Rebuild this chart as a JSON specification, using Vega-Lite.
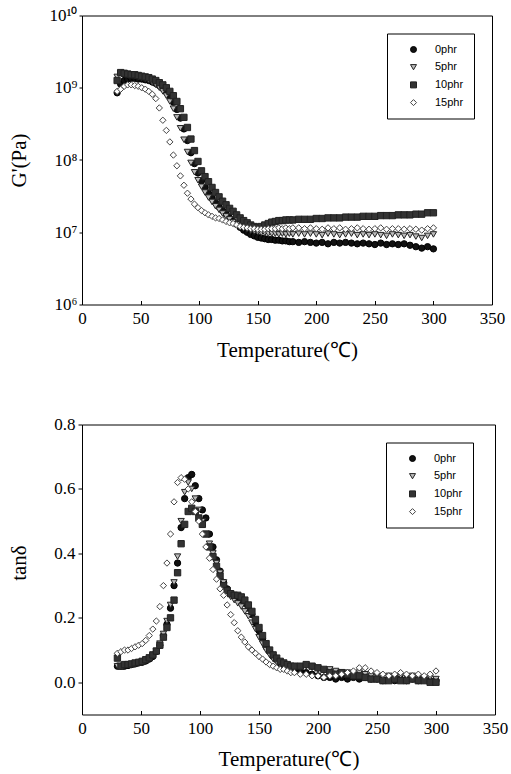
{
"$schema": "https://vega.github.io/schema/vega-lite/v6.json",
"background": "white",
"padding": {"left": 7, "top": 5.5, "right": 5, "bottom": 5},
"autosize": {"type": "pad"},
"spacing": 53,
"data": {"values": [
{"p":"0phr","t":30,"g":8.51e8,"d":0.05},
{"p":"0phr","t":33,"g":1.122e9,"d":0.05},
{"p":"0phr","t":36,"g":1.259e9,"d":0.05},
{"p":"0phr","t":39,"g":1.318e9,"d":0.052},
{"p":"0phr","t":42,"g":1.349e9,"d":0.055},
{"p":"0phr","t":45,"g":1.349e9,"d":0.057},
{"p":"0phr","t":48,"g":1.318e9,"d":0.06},
{"p":"0phr","t":51,"g":1.318e9,"d":0.062},
{"p":"0phr","t":54,"g":1.288e9,"d":0.066},
{"p":"0phr","t":57,"g":1.259e9,"d":0.072},
{"p":"0phr","t":60,"g":1.202e9,"d":0.08},
{"p":"0phr","t":63,"g":1.148e9,"d":0.095},
{"p":"0phr","t":66,"g":1.072e9,"d":0.115},
{"p":"0phr","t":69,"g":9.77e8,"d":0.145},
{"p":"0phr","t":72,"g":8.71e8,"d":0.18},
{"p":"0phr","t":75,"g":7.59e8,"d":0.23},
{"p":"0phr","t":78,"g":6.31e8,"d":0.3},
{"p":"0phr","t":81,"g":5.01e8,"d":0.37},
{"p":"0phr","t":84,"g":3.8e8,"d":0.48},
{"p":"0phr","t":87,"g":2.69e8,"d":0.57},
{"p":"0phr","t":90,"g":1.86e8,"d":0.635},
{"p":"0phr","t":93,"g":1.26e8,"d":0.645},
{"p":"0phr","t":96,"g":8.91e7,"d":0.61},
{"p":"0phr","t":99,"g":6.61e7,"d":0.57},
{"p":"0phr","t":102,"g":5.13e7,"d":0.535},
{"p":"0phr","t":105,"g":4.17e7,"d":0.51},
{"p":"0phr","t":108,"g":3.47e7,"d":0.46},
{"p":"0phr","t":111,"g":2.95e7,"d":0.42},
{"p":"0phr","t":114,"g":2.57e7,"d":0.38},
{"p":"0phr","t":117,"g":2.24e7,"d":0.345},
{"p":"0phr","t":120,"g":2.0e7,"d":0.31},
{"p":"0phr","t":123,"g":1.78e7,"d":0.29},
{"p":"0phr","t":126,"g":1.58e7,"d":0.275},
{"p":"0phr","t":129,"g":1.41e7,"d":0.27},
{"p":"0phr","t":132,"g":1.29e7,"d":0.265},
{"p":"0phr","t":135,"g":1.17e7,"d":0.255},
{"p":"0phr","t":138,"g":1.07e7,"d":0.245},
{"p":"0phr","t":141,"g":1.0e7,"d":0.23},
{"p":"0phr","t":144,"g":9.33e6,"d":0.21},
{"p":"0phr","t":147,"g":8.91e6,"d":0.185},
{"p":"0phr","t":150,"g":8.51e6,"d":0.16},
{"p":"0phr","t":153,"g":8.32e6,"d":0.135},
{"p":"0phr","t":156,"g":8.13e6,"d":0.11},
{"p":"0phr","t":159,"g":7.94e6,"d":0.095},
{"p":"0phr","t":162,"g":7.94e6,"d":0.08},
{"p":"0phr","t":165,"g":7.76e6,"d":0.07},
{"p":"0phr","t":168,"g":7.76e6,"d":0.06},
{"p":"0phr","t":171,"g":7.59e6,"d":0.055},
{"p":"0phr","t":174,"g":7.59e6,"d":0.05},
{"p":"0phr","t":177,"g":7.41e6,"d":0.045},
{"p":"0phr","t":180,"g":7.41e6,"d":0.04},
{"p":"0phr","t":185,"g":7.24e6,"d":0.035},
{"p":"0phr","t":190,"g":7.41e6,"d":0.03},
{"p":"0phr","t":195,"g":7.24e6,"d":0.025},
{"p":"0phr","t":200,"g":7.08e6,"d":0.02},
{"p":"0phr","t":205,"g":7.24e6,"d":0.015},
{"p":"0phr","t":210,"g":6.92e6,"d":0.015},
{"p":"0phr","t":215,"g":7.24e6,"d":0.01},
{"p":"0phr","t":220,"g":7.08e6,"d":0.015},
{"p":"0phr","t":225,"g":7.24e6,"d":0.01},
{"p":"0phr","t":230,"g":7.08e6,"d":0.015},
{"p":"0phr","t":235,"g":6.92e6,"d":0.01},
{"p":"0phr","t":240,"g":7.08e6,"d":0.015},
{"p":"0phr","t":245,"g":6.92e6,"d":0.01},
{"p":"0phr","t":250,"g":6.76e6,"d":0.01},
{"p":"0phr","t":255,"g":7.08e6,"d":0.005},
{"p":"0phr","t":260,"g":6.76e6,"d":0.01},
{"p":"0phr","t":265,"g":6.92e6,"d":0.005},
{"p":"0phr","t":270,"g":6.76e6,"d":0.01},
{"p":"0phr","t":275,"g":6.92e6,"d":0.005},
{"p":"0phr","t":280,"g":6.61e6,"d":0.01},
{"p":"0phr","t":285,"g":6.31e6,"d":0.005},
{"p":"0phr","t":290,"g":6.03e6,"d":0.01},
{"p":"0phr","t":295,"g":6.31e6,"d":0.005},
{"p":"0phr","t":300,"g":5.89e6,"d":0.005},
{"p":"5phr","t":30,"g":1.413e9,"d":0.05},
{"p":"5phr","t":33,"g":1.585e9,"d":0.05},
{"p":"5phr","t":36,"g":1.549e9,"d":0.052},
{"p":"5phr","t":39,"g":1.514e9,"d":0.053},
{"p":"5phr","t":42,"g":1.479e9,"d":0.055},
{"p":"5phr","t":45,"g":1.445e9,"d":0.057},
{"p":"5phr","t":48,"g":1.413e9,"d":0.06},
{"p":"5phr","t":51,"g":1.38e9,"d":0.063},
{"p":"5phr","t":54,"g":1.318e9,"d":0.067},
{"p":"5phr","t":57,"g":1.259e9,"d":0.073},
{"p":"5phr","t":60,"g":1.175e9,"d":0.082},
{"p":"5phr","t":63,"g":1.096e9,"d":0.097},
{"p":"5phr","t":66,"g":1.0e9,"d":0.12},
{"p":"5phr","t":69,"g":8.91e8,"d":0.15},
{"p":"5phr","t":72,"g":7.76e8,"d":0.19},
{"p":"5phr","t":75,"g":6.46e8,"d":0.24},
{"p":"5phr","t":78,"g":5.13e8,"d":0.31},
{"p":"5phr","t":81,"g":3.89e8,"d":0.39},
{"p":"5phr","t":84,"g":2.75e8,"d":0.5},
{"p":"5phr","t":87,"g":1.91e8,"d":0.59},
{"p":"5phr","t":90,"g":1.29e8,"d":0.62},
{"p":"5phr","t":93,"g":9.12e7,"d":0.6},
{"p":"5phr","t":96,"g":6.76e7,"d":0.57},
{"p":"5phr","t":99,"g":5.25e7,"d":0.535},
{"p":"5phr","t":102,"g":4.27e7,"d":0.5},
{"p":"5phr","t":105,"g":3.55e7,"d":0.46},
{"p":"5phr","t":108,"g":3.02e7,"d":0.43},
{"p":"5phr","t":111,"g":2.63e7,"d":0.4},
{"p":"5phr","t":114,"g":2.29e7,"d":0.37},
{"p":"5phr","t":117,"g":2.04e7,"d":0.34},
{"p":"5phr","t":120,"g":1.82e7,"d":0.31},
{"p":"5phr","t":123,"g":1.66e7,"d":0.285},
{"p":"5phr","t":126,"g":1.51e7,"d":0.265},
{"p":"5phr","t":129,"g":1.38e7,"d":0.255},
{"p":"5phr","t":132,"g":1.29e7,"d":0.245},
{"p":"5phr","t":135,"g":1.2e7,"d":0.235},
{"p":"5phr","t":138,"g":1.15e7,"d":0.22},
{"p":"5phr","t":141,"g":1.1e7,"d":0.205},
{"p":"5phr","t":144,"g":1.05e7,"d":0.185},
{"p":"5phr","t":147,"g":1.02e7,"d":0.165},
{"p":"5phr","t":150,"g":1.0e7,"d":0.14},
{"p":"5phr","t":153,"g":9.77e6,"d":0.12},
{"p":"5phr","t":156,"g":9.77e6,"d":0.1},
{"p":"5phr","t":159,"g":9.55e6,"d":0.085},
{"p":"5phr","t":162,"g":9.55e6,"d":0.072},
{"p":"5phr","t":165,"g":9.55e6,"d":0.062},
{"p":"5phr","t":168,"g":9.33e6,"d":0.055},
{"p":"5phr","t":171,"g":9.55e6,"d":0.05},
{"p":"5phr","t":174,"g":9.33e6,"d":0.045},
{"p":"5phr","t":177,"g":9.55e6,"d":0.042},
{"p":"5phr","t":180,"g":9.33e6,"d":0.04},
{"p":"5phr","t":185,"g":9.55e6,"d":0.045},
{"p":"5phr","t":190,"g":9.33e6,"d":0.05},
{"p":"5phr","t":195,"g":9.55e6,"d":0.045},
{"p":"5phr","t":200,"g":9.33e6,"d":0.04},
{"p":"5phr","t":205,"g":9.12e6,"d":0.035},
{"p":"5phr","t":210,"g":9.55e6,"d":0.04},
{"p":"5phr","t":215,"g":9.33e6,"d":0.035},
{"p":"5phr","t":220,"g":9.12e6,"d":0.03},
{"p":"5phr","t":225,"g":9.33e6,"d":0.03},
{"p":"5phr","t":230,"g":9.55e6,"d":0.025},
{"p":"5phr","t":235,"g":9.12e6,"d":0.03},
{"p":"5phr","t":240,"g":9.33e6,"d":0.025},
{"p":"5phr","t":245,"g":9.12e6,"d":0.02},
{"p":"5phr","t":250,"g":9.33e6,"d":0.02},
{"p":"5phr","t":255,"g":9.12e6,"d":0.015},
{"p":"5phr","t":260,"g":8.91e6,"d":0.02},
{"p":"5phr","t":265,"g":9.33e6,"d":0.015},
{"p":"5phr","t":270,"g":9.12e6,"d":0.02},
{"p":"5phr","t":275,"g":8.91e6,"d":0.015},
{"p":"5phr","t":280,"g":9.12e6,"d":0.02},
{"p":"5phr","t":285,"g":8.71e6,"d":0.015},
{"p":"5phr","t":290,"g":8.32e6,"d":0.01},
{"p":"5phr","t":295,"g":8.91e6,"d":0.015},
{"p":"5phr","t":300,"g":9.33e6,"d":0.01},
{"p":"10phr","t":30,"g":1.259e9,"d":0.075},
{"p":"10phr","t":33,"g":1.622e9,"d":0.05},
{"p":"10phr","t":36,"g":1.585e9,"d":0.055},
{"p":"10phr","t":39,"g":1.549e9,"d":0.055},
{"p":"10phr","t":42,"g":1.514e9,"d":0.057},
{"p":"10phr","t":45,"g":1.514e9,"d":0.06},
{"p":"10phr","t":48,"g":1.479e9,"d":0.062},
{"p":"10phr","t":51,"g":1.445e9,"d":0.065},
{"p":"10phr","t":54,"g":1.413e9,"d":0.07},
{"p":"10phr","t":57,"g":1.38e9,"d":0.076},
{"p":"10phr","t":60,"g":1.318e9,"d":0.085},
{"p":"10phr","t":63,"g":1.259e9,"d":0.097},
{"p":"10phr","t":66,"g":1.175e9,"d":0.115},
{"p":"10phr","t":69,"g":1.096e9,"d":0.14},
{"p":"10phr","t":72,"g":1.0e9,"d":0.17},
{"p":"10phr","t":75,"g":8.91e8,"d":0.2},
{"p":"10phr","t":78,"g":7.76e8,"d":0.255},
{"p":"10phr","t":81,"g":6.46e8,"d":0.34},
{"p":"10phr","t":84,"g":5.13e8,"d":0.43},
{"p":"10phr","t":87,"g":3.89e8,"d":0.49},
{"p":"10phr","t":90,"g":2.82e8,"d":0.53},
{"p":"10phr","t":93,"g":1.95e8,"d":0.54},
{"p":"10phr","t":96,"g":1.35e8,"d":0.53},
{"p":"10phr","t":99,"g":9.55e7,"d":0.51},
{"p":"10phr","t":102,"g":7.08e7,"d":0.49},
{"p":"10phr","t":105,"g":5.89e7,"d":0.46},
{"p":"10phr","t":108,"g":5.01e7,"d":0.42},
{"p":"10phr","t":111,"g":4.17e7,"d":0.39},
{"p":"10phr","t":114,"g":3.55e7,"d":0.36},
{"p":"10phr","t":117,"g":3.09e7,"d":0.33},
{"p":"10phr","t":120,"g":2.69e7,"d":0.3},
{"p":"10phr","t":123,"g":2.4e7,"d":0.285},
{"p":"10phr","t":126,"g":2.14e7,"d":0.275},
{"p":"10phr","t":129,"g":1.95e7,"d":0.27},
{"p":"10phr","t":132,"g":1.74e7,"d":0.27},
{"p":"10phr","t":135,"g":1.58e7,"d":0.265},
{"p":"10phr","t":138,"g":1.45e7,"d":0.255},
{"p":"10phr","t":141,"g":1.35e7,"d":0.24},
{"p":"10phr","t":144,"g":1.26e7,"d":0.22},
{"p":"10phr","t":147,"g":1.2e7,"d":0.195},
{"p":"10phr","t":150,"g":1.17e7,"d":0.17},
{"p":"10phr","t":153,"g":1.2e7,"d":0.145},
{"p":"10phr","t":156,"g":1.26e7,"d":0.12},
{"p":"10phr","t":159,"g":1.32e7,"d":0.1},
{"p":"10phr","t":162,"g":1.38e7,"d":0.085},
{"p":"10phr","t":165,"g":1.41e7,"d":0.075},
{"p":"10phr","t":168,"g":1.45e7,"d":0.065},
{"p":"10phr","t":171,"g":1.45e7,"d":0.06},
{"p":"10phr","t":174,"g":1.48e7,"d":0.055},
{"p":"10phr","t":177,"g":1.48e7,"d":0.05},
{"p":"10phr","t":180,"g":1.48e7,"d":0.05},
{"p":"10phr","t":185,"g":1.51e7,"d":0.05},
{"p":"10phr","t":190,"g":1.51e7,"d":0.055},
{"p":"10phr","t":195,"g":1.51e7,"d":0.05},
{"p":"10phr","t":200,"g":1.55e7,"d":0.045},
{"p":"10phr","t":205,"g":1.55e7,"d":0.04},
{"p":"10phr","t":210,"g":1.58e7,"d":0.03},
{"p":"10phr","t":215,"g":1.58e7,"d":0.025},
{"p":"10phr","t":220,"g":1.58e7,"d":0.03},
{"p":"10phr","t":225,"g":1.62e7,"d":0.025},
{"p":"10phr","t":230,"g":1.62e7,"d":0.02},
{"p":"10phr","t":235,"g":1.62e7,"d":0.02},
{"p":"10phr","t":240,"g":1.66e7,"d":0.015},
{"p":"10phr","t":245,"g":1.66e7,"d":0.01},
{"p":"10phr","t":250,"g":1.66e7,"d":0.01},
{"p":"10phr","t":255,"g":1.7e7,"d":0.005},
{"p":"10phr","t":260,"g":1.7e7,"d":0.005},
{"p":"10phr","t":265,"g":1.7e7,"d":0.01},
{"p":"10phr","t":270,"g":1.74e7,"d":0.005},
{"p":"10phr","t":275,"g":1.74e7,"d":0.005},
{"p":"10phr","t":280,"g":1.74e7,"d":0.01},
{"p":"10phr","t":285,"g":1.78e7,"d":0.005},
{"p":"10phr","t":290,"g":1.78e7,"d":0.005},
{"p":"10phr","t":295,"g":1.86e7,"d":0.0},
{"p":"10phr","t":300,"g":1.86e7,"d":0.0},
{"p":"15phr","t":30,"g":8.91e8,"d":0.09},
{"p":"15phr","t":33,"g":9.55e8,"d":0.095},
{"p":"15phr","t":36,"g":1.047e9,"d":0.1},
{"p":"15phr","t":39,"g":1.096e9,"d":0.1},
{"p":"15phr","t":42,"g":1.096e9,"d":0.105},
{"p":"15phr","t":45,"g":1.072e9,"d":0.11},
{"p":"15phr","t":48,"g":1.047e9,"d":0.115},
{"p":"15phr","t":51,"g":1.0e9,"d":0.12},
{"p":"15phr","t":54,"g":9.55e8,"d":0.13},
{"p":"15phr","t":57,"g":8.91e8,"d":0.145},
{"p":"15phr","t":60,"g":8.13e8,"d":0.165},
{"p":"15phr","t":63,"g":7.08e8,"d":0.19},
{"p":"15phr","t":66,"g":5.25e8,"d":0.235},
{"p":"15phr","t":69,"g":3.55e8,"d":0.3},
{"p":"15phr","t":72,"g":2.57e8,"d":0.37},
{"p":"15phr","t":75,"g":1.78e8,"d":0.46},
{"p":"15phr","t":78,"g":1.17e8,"d":0.56},
{"p":"15phr","t":81,"g":8.32e7,"d":0.62},
{"p":"15phr","t":84,"g":6.03e7,"d":0.635},
{"p":"15phr","t":87,"g":4.47e7,"d":0.63},
{"p":"15phr","t":90,"g":3.47e7,"d":0.6},
{"p":"15phr","t":93,"g":2.88e7,"d":0.56},
{"p":"15phr","t":96,"g":2.45e7,"d":0.53},
{"p":"15phr","t":99,"g":2.19e7,"d":0.5},
{"p":"15phr","t":102,"g":2.0e7,"d":0.46},
{"p":"15phr","t":105,"g":1.86e7,"d":0.42},
{"p":"15phr","t":108,"g":1.74e7,"d":0.385},
{"p":"15phr","t":111,"g":1.66e7,"d":0.35},
{"p":"15phr","t":114,"g":1.58e7,"d":0.32},
{"p":"15phr","t":117,"g":1.55e7,"d":0.29},
{"p":"15phr","t":120,"g":1.48e7,"d":0.27},
{"p":"15phr","t":123,"g":1.41e7,"d":0.24},
{"p":"15phr","t":126,"g":1.35e7,"d":0.21},
{"p":"15phr","t":129,"g":1.32e7,"d":0.185},
{"p":"15phr","t":132,"g":1.26e7,"d":0.16},
{"p":"15phr","t":135,"g":1.2e7,"d":0.14},
{"p":"15phr","t":138,"g":1.17e7,"d":0.125},
{"p":"15phr","t":141,"g":1.15e7,"d":0.11},
{"p":"15phr","t":144,"g":1.12e7,"d":0.1},
{"p":"15phr","t":147,"g":1.12e7,"d":0.09},
{"p":"15phr","t":150,"g":1.1e7,"d":0.08},
{"p":"15phr","t":153,"g":1.1e7,"d":0.072},
{"p":"15phr","t":156,"g":1.1e7,"d":0.063},
{"p":"15phr","t":159,"g":1.12e7,"d":0.055},
{"p":"15phr","t":162,"g":1.12e7,"d":0.05},
{"p":"15phr","t":165,"g":1.12e7,"d":0.045},
{"p":"15phr","t":168,"g":1.15e7,"d":0.04},
{"p":"15phr","t":171,"g":1.12e7,"d":0.04},
{"p":"15phr","t":174,"g":1.15e7,"d":0.035},
{"p":"15phr","t":177,"g":1.12e7,"d":0.03},
{"p":"15phr","t":180,"g":1.15e7,"d":0.03},
{"p":"15phr","t":185,"g":1.15e7,"d":0.025},
{"p":"15phr","t":190,"g":1.12e7,"d":0.025},
{"p":"15phr","t":195,"g":1.15e7,"d":0.02},
{"p":"15phr","t":200,"g":1.12e7,"d":0.02},
{"p":"15phr","t":205,"g":1.1e7,"d":0.015},
{"p":"15phr","t":210,"g":1.15e7,"d":0.02},
{"p":"15phr","t":215,"g":1.12e7,"d":0.02},
{"p":"15phr","t":220,"g":1.15e7,"d":0.025},
{"p":"15phr","t":225,"g":1.1e7,"d":0.03},
{"p":"15phr","t":230,"g":1.12e7,"d":0.035},
{"p":"15phr","t":235,"g":1.15e7,"d":0.045},
{"p":"15phr","t":240,"g":1.12e7,"d":0.045},
{"p":"15phr","t":245,"g":1.1e7,"d":0.035},
{"p":"15phr","t":250,"g":1.12e7,"d":0.03},
{"p":"15phr","t":255,"g":1.15e7,"d":0.025},
{"p":"15phr","t":260,"g":1.1e7,"d":0.02},
{"p":"15phr","t":265,"g":1.12e7,"d":0.025},
{"p":"15phr","t":270,"g":1.12e7,"d":0.03},
{"p":"15phr","t":275,"g":1.1e7,"d":0.025},
{"p":"15phr","t":280,"g":1.12e7,"d":0.02},
{"p":"15phr","t":285,"g":1.1e7,"d":0.025},
{"p":"15phr","t":290,"g":1.07e7,"d":0.02},
{"p":"15phr","t":295,"g":1.12e7,"d":0.025},
{"p":"15phr","t":300,"g":1.15e7,"d":0.035}
]},
"resolve": {
  "scale": {"x": "independent", "y": "independent", "shape": "independent", "fill": "independent", "stroke": "independent"},
  "legend": {"shape": "independent", "fill": "independent", "stroke": "independent"},
  "axis": {"x": "independent", "y": "independent"}
},
"vconcat": [
{
  "width": 410,
  "height": 289,
  "mark": {"type": "point", "filled": true, "size": 40, "strokeWidth": 1, "opacity": 1},
  "encoding": {
    "x": {"field": "t", "type": "quantitative", "scale": {"domain": [0, 350], "nice": false, "zero": false},
      "axis": {"values": [0, 50, 100, 150, 200, 250, 300, 350], "title": "Temperature(℃)", "tickSize": -4, "labelPadding": 10,
        "titleY": 46, "titleBaseline": "middle",
        "labelFont": "Liberation Serif", "titleFont": "Liberation Serif", "labelFontSize": 17, "titleFontSize": 21, "titleFontWeight": "normal",
        "labelColor": "#000000", "titleColor": "#000000", "tickColor": "#000000", "domain": false, "grid": false, "labelFlush": false, "labelOverlap": false}},
    "y": {"field": "g", "type": "quantitative", "scale": {"type": "log", "domain": [1e6, 1e10], "nice": false},
      "axis": {"values": [1e6, 1e7, 1e8, 1e9, 1e10], "title": "G'(Pa)", "tickSize": 3, "labelPadding": 2,
        "titleX": -63, "titleY": 144.5, "titleAngle": -90, "titleBaseline": "middle", "titleAlign": "center",
        "labelFont": "Liberation Serif", "titleFont": "Liberation Serif", "labelFontSize": 17, "titleFontSize": 21, "titleFontWeight": "normal",
        "labelColor": "#000000", "titleColor": "#000000", "tickColor": "#000000", "domain": false, "grid": false, "labelFlush": false, "labelOverlap": false,
        "labelExpr": "datum.value > 5e9 ? '10¹⁰' : datum.value > 5e8 ? '10⁹' : datum.value > 5e7 ? '10⁸' : datum.value > 5e6 ? '10⁷' : '10⁶'"}},
    "shape": {"field": "p", "type": "nominal", "sort": ["0phr", "5phr", "10phr", "15phr"],
      "scale": {"domain": ["0phr", "5phr", "10phr", "15phr"], "range": ["circle", "triangle-down", "square", "diamond"]},
      "legend": {"title": null, "orient": "none", "legendX": 305, "legendY": 18, "labelFont": "Liberation Sans", "labelFontSize": 11, "labelColor": "#000000", "strokeColor": "#000000", "fillColor": "#ffffff", "padding": 10.5, "rowPadding": 5.7, "symbolSize": 36, "symbolOffset": 10.5, "labelOffset": 16, "symbolStrokeWidth": 1}},
    "fill": {"field": "p", "type": "nominal", "scale": {"domain": ["0phr", "5phr", "10phr", "15phr"], "range": ["#111111", "#bbbbbb", "#333333", "#ffffff"]},
      "legend": {"title": null, "orient": "none", "legendX": 305, "legendY": 18}},
    "stroke": {"field": "p", "type": "nominal", "scale": {"domain": ["0phr", "5phr", "10phr", "15phr"], "range": ["#000000", "#222222", "#222222", "#444444"]},
      "legend": {"title": null, "orient": "none", "legendX": 305, "legendY": 18}}
  }
},
{
  "width": 413,
  "height": 290,
  "mark": {"type": "point", "filled": true, "size": 40, "strokeWidth": 1, "opacity": 1},
  "encoding": {
    "x": {"field": "t", "type": "quantitative", "scale": {"domain": [0, 350], "nice": false, "zero": false},
      "axis": {"values": [0, 50, 100, 150, 200, 250, 300, 350], "title": "Temperature(℃)", "tickSize": -4, "labelPadding": 10,
        "titleY": 45, "titleBaseline": "middle",
        "labelFont": "Liberation Serif", "titleFont": "Liberation Serif", "labelFontSize": 17, "titleFontSize": 21, "titleFontWeight": "normal",
        "labelColor": "#000000", "titleColor": "#000000", "tickColor": "#000000", "domain": false, "grid": false, "labelFlush": false, "labelOverlap": false}},
    "y": {"field": "d", "type": "quantitative", "scale": {"domain": [-0.1, 0.8], "nice": false, "zero": false},
      "axis": {"values": [0, 0.2, 0.4, 0.6, 0.8], "format": ".1f", "title": "tanδ", "tickSize": 4, "labelPadding": 3,
        "titleX": -63, "titleY": 138, "titleAngle": -90, "titleBaseline": "middle", "titleAlign": "center",
        "labelFont": "Liberation Serif", "titleFont": "Liberation Serif", "labelFontSize": 17, "titleFontSize": 21, "titleFontWeight": "normal",
        "labelColor": "#000000", "titleColor": "#000000", "tickColor": "#000000", "domain": false, "grid": false, "labelFlush": false, "labelOverlap": false}},
    "shape": {"field": "p", "type": "nominal", "sort": ["0phr", "5phr", "10phr", "15phr"],
      "scale": {"domain": ["0phr", "5phr", "10phr", "15phr"], "range": ["circle", "triangle-down", "square", "diamond"]},
      "legend": {"title": null, "orient": "none", "legendX": 304, "legendY": 18, "labelFont": "Liberation Sans", "labelFontSize": 11, "labelColor": "#000000", "strokeColor": "#000000", "fillColor": "#ffffff", "padding": 10.5, "rowPadding": 5.7, "symbolSize": 36, "symbolOffset": 10.5, "labelOffset": 16, "symbolStrokeWidth": 1}},
    "fill": {"field": "p", "type": "nominal", "scale": {"domain": ["0phr", "5phr", "10phr", "15phr"], "range": ["#111111", "#bbbbbb", "#333333", "#ffffff"]},
      "legend": {"title": null, "orient": "none", "legendX": 304, "legendY": 18}},
    "stroke": {"field": "p", "type": "nominal", "scale": {"domain": ["0phr", "5phr", "10phr", "15phr"], "range": ["#000000", "#222222", "#222222", "#444444"]},
      "legend": {"title": null, "orient": "none", "legendX": 304, "legendY": 18}}
  }
}
],
"config": {
  "view": {"stroke": "#000000", "strokeWidth": 1}
}
}
